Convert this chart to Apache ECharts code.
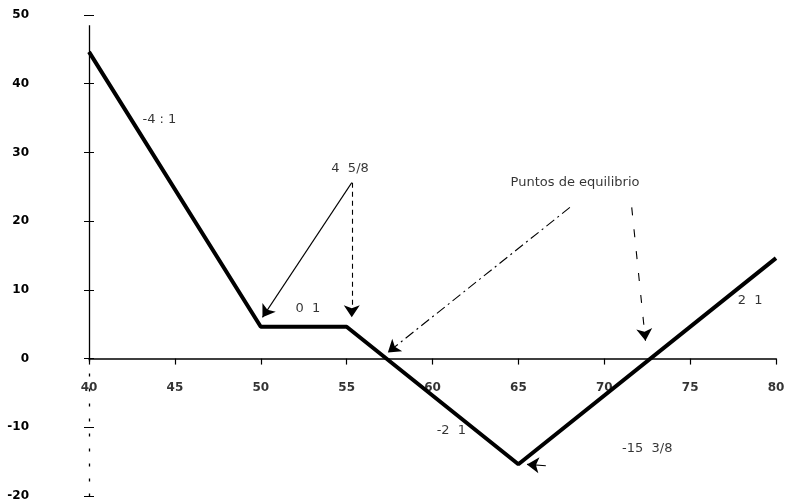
<!DOCTYPE html>
<html>
<head>
<meta charset="utf-8">
<script src="https://cdn.jsdelivr.net/npm/echarts@6/dist/echarts.min.js"></script>
<style>
  html, body { margin: 0; padding: 0; background: #fff; }
  #chart { width: 786px; height: 504px; }
</style>
</head>
<body>
<div id="chart"></div>
<script>
// Profit/loss of the position at expiry versus underlying price
const prices = [40, 50, 55, 65, 80];
const payoff = [44.625, 4.625, 4.625, -15.375, 14.625];

// Axis ranges
const xTicks = [40, 45, 50, 55, 60, 65, 70, 75, 80];
const yTicks = [-20, -10, 0, 10, 20, 30, 40, 50];

// Text annotations: [x, y, text]
const notes = [
  [44.1, 34.8, '-4 : 1'],
  [55.2, 27.7, '4  5/8'],
  [52.75, 7.3, '0  1'],
  [68.3, 25.6, 'Puntos de equilibrio'],
  [61.1, -10.5, '-2  1'],
  [78.5, 8.4, '2  1'],
  [72.5, -13.1, '-15  3/8']
];

// Pointer arrows: [x1, y1, x2, y2, dash]
const pointers = [
  [55.3, 25.6, 50.1, 6.0, 'solid'],
  [55.3, 25.6, 55.3, 6.0, [5, 4]],
  [68.0, 22.0, 57.4, 0.9, [10, 4, 2, 4]],
  [71.6, 22.0, 72.4, 2.6, [8, 14]],
  [66.6, -15.6, 65.5, -15.4, 'solid']
];

const chart = echarts.init(document.getElementById('chart'));
const tickFont = '"DejaVu Sans", sans-serif';

chart.setOption({
  animation: false,
  backgroundColor: '#fff',
  grid: { left: 89, right: 10, top: 15, bottom: 8, containLabel: false, outerBoundsMode: 'none' },
  xAxis: {
    type: 'value',
    min: xTicks[0], max: xTicks[xTicks.length - 1], interval: 5,
    axisLine: { onZero: true, onZeroAxisIndex: 0, lineStyle: { color: '#000', width: 1.5 } },
    axisTick: { show: true, length: 6, lineStyle: { color: '#000', width: 1.2 } },
    axisLabel: { show: false },
    splitLine: { show: false }
  },
  yAxis: [{
    type: 'value',
    min: yTicks[0], max: yTicks[yTicks.length - 1], interval: 10,
    axisLine: { show: false },
    axisTick: { show: true, length: 5, lineStyle: { color: '#000', width: 1 } },
    axisLabel: { margin: 60, color: '#000', fontFamily: tickFont, fontSize: 12, fontWeight: 'bold' },
    splitLine: { show: false }
  }, {
    type: 'value',
    position: 'left',
    min: yTicks[0], max: yTicks[yTicks.length - 1], interval: 10,
    axisLine: { show: false },
    axisTick: { show: true, inside: true, length: 5, lineStyle: { color: '#000', width: 1 } },
    axisLabel: { show: false },
    splitLine: { show: false }
  }],
  series: [{
    type: 'line',
    data: prices.map((p, i) => [p, payoff[i]]),
    symbol: 'none',
    lineStyle: { color: '#000', width: 4 },
    z: 5,
    markLine: {
      silent: true,
      symbol: ['none', 'none'],
      label: { show: false },
      data: [
        [{ coord: [40, 0], lineStyle: { color: '#000', width: 1.3, type: 'solid' } }, { coord: [40, 48.5] }],
        [{ coord: [40, 0], lineStyle: { color: '#000', width: 1.3, type: [3, 12] } }, { coord: [40, -20] }]
      ]
    }
  }, {
    type: 'lines',
    coordinateSystem: 'cartesian2d',
    symbol: ['none', 'arrow'],
    symbolSize: 12,
    silent: true,
    z: 6,
    data: pointers.map(p => ({
      coords: [[p[0], p[1]], [p[2], p[3]]],
      lineStyle: { color: '#000', width: 1.1, type: p[4], opacity: 1 }
    }))
  }, {
    // annotation texts
    type: 'scatter',
    symbolSize: 0,
    silent: true,
    z: 7,
    data: notes.map(n => ({ value: [n[0], n[1]], name: n[2] })),
    label: {
      show: true, position: 'inside', formatter: '{b}',
      color: '#000', fontFamily: tickFont, fontSize: 13
    }
  }, {
    // price labels hung below the zero line
    type: 'scatter',
    symbolSize: 0,
    silent: true,
    z: 7,
    data: xTicks.map(t => ({ value: [t, 0], name: String(t) })),
    label: {
      show: true, position: 'inside', offset: [0, 29], formatter: '{b}',
      color: '#000', fontFamily: tickFont, fontSize: 12, fontWeight: 'bold'
    }
  }]
});
</script>
</body>
</html>
